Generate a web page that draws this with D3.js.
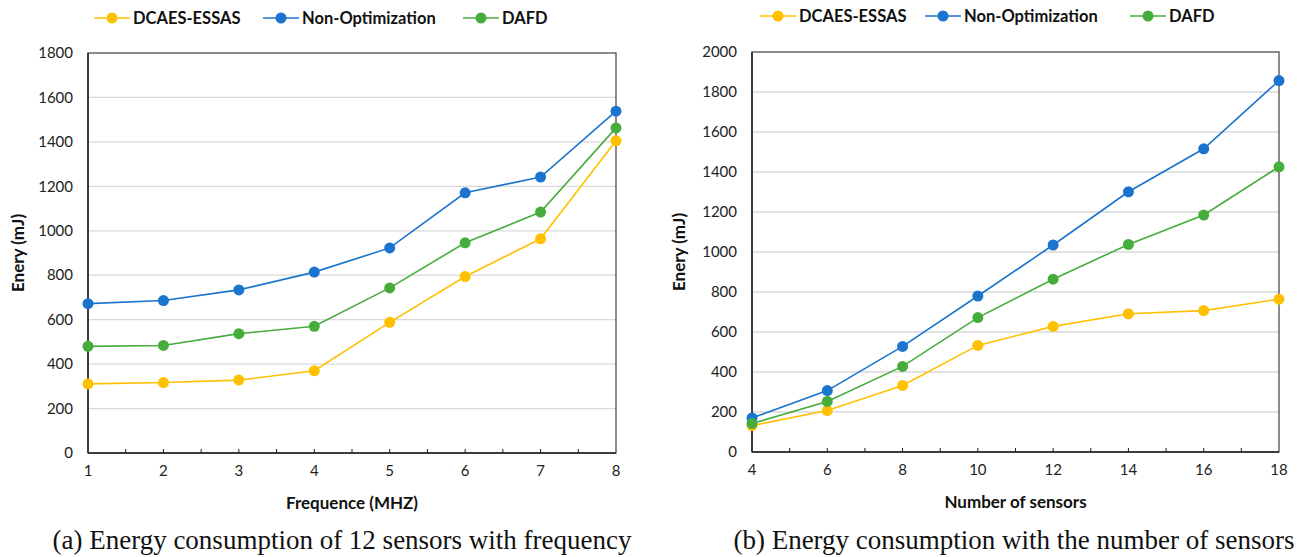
<!DOCTYPE html>
<html>
<head>
<meta charset="utf-8">
<script src="https://cdn.jsdelivr.net/npm/d3@7"></script>
<style>
  body { margin: 0; background: #fff; }
  svg text { font-family: Lato, "Open Sans", sans-serif; }
</style>
</head>
<body>
<svg id="chart" width="1299" height="557"></svg>
<script>
// Series names and colors
const seriesNames = ['DCAES-ESSAS', 'Non-Optimization', 'DAFD'];
const seriesColors = ['#FFC000', '#1B74CD', '#46AD3C'];

// (a) energy vs frequency
const freqX = [1, 2, 3, 4, 5, 6, 7, 8];
const freqDcaes = [311, 317, 328, 370, 588, 794, 964, 1405];
const freqNonOpt = [672, 686, 734, 814, 923, 1171, 1242, 1538];
const freqDafd = [480, 484, 537, 570, 743, 946, 1084, 1463];
const freqYTicks = [0, 200, 400, 600, 800, 1000, 1200, 1400, 1600, 1800];

// (b) energy vs number of sensors
const sensorX = [4, 6, 8, 10, 12, 14, 16, 18];
const sensorDcaes = [132, 207, 333, 533, 628, 691, 707, 764];
const sensorNonOpt = [170, 307, 528, 780, 1035, 1301, 1516, 1857];
const sensorDafd = [142, 253, 428, 672, 864, 1038, 1185, 1426];
const sensorYTicks = [0, 200, 400, 600, 800, 1000, 1200, 1400, 1600, 1800, 2000];

const svg = d3.select('#chart');

function drawPanel(cfg) {
    const x = d3.scaleLinear().domain(cfg.xDomain).range([cfg.left, cfg.right]);
    const y = d3.scaleLinear().domain(cfg.yDomain).range([cfg.bottom, cfg.top]);
    const g = svg.append('g');

    // Gridlines
    g.selectAll('.grid')
        .data(cfg.yTicks.filter(v => v > cfg.yDomain[0] && v < cfg.yDomain[1]))
        .enter().append('line')
        .attr('x1', cfg.left).attr('x2', cfg.right)
        .attr('y1', d => y(d)).attr('y2', d => y(d))
        .attr('stroke', '#d9d9d9').attr('stroke-width', 1.3);

    // Frame
    g.append('rect')
        .attr('x', cfg.left).attr('y', cfg.top)
        .attr('width', cfg.right - cfg.left).attr('height', cfg.bottom - cfg.top)
        .attr('fill', 'none').attr('stroke', '#404040').attr('stroke-width', 1.2);
    g.append('line')
        .attr('x1', cfg.left).attr('x2', cfg.left)
        .attr('y1', cfg.top).attr('y2', cfg.bottom)
        .attr('stroke', '#222').attr('stroke-width', 1.5);
    g.append('line')
        .attr('x1', cfg.left).attr('x2', cfg.right)
        .attr('y1', cfg.bottom).attr('y2', cfg.bottom)
        .attr('stroke', '#222').attr('stroke-width', 1.5);

    // X minor ticks (inside)
    const minor = d3.range(cfg.xDomain[0] + cfg.tickStep, cfg.xDomain[1], cfg.tickStep);
    g.selectAll('.xt')
        .data(minor)
        .enter().append('line')
        .attr('x1', d => x(d)).attr('x2', d => x(d))
        .attr('y1', cfg.bottom).attr('y2', cfg.bottom - 4)
        .attr('stroke', '#222').attr('stroke-width', 1);

    // Y tick labels
    g.selectAll('.yl')
        .data(cfg.yTicks)
        .enter().append('text')
        .attr('x', cfg.left - 15)
        .attr('y', d => y(d))
        .attr('dy', '0.35em')
        .attr('text-anchor', 'end')
        .attr('font-size', 15)
        .attr('fill', '#222')
        .text(d => d);

    // X tick labels
    g.selectAll('.xl')
        .data(cfg.xs)
        .enter().append('text')
        .attr('x', d => x(d))
        .attr('y', cfg.bottom + 23)
        .attr('text-anchor', 'middle')
        .attr('font-size', 15)
        .attr('fill', '#222')
        .text(d => d);

    // Axis titles
    g.append('text')
        .attr('x', (cfg.left + cfg.right) / 2)
        .attr('y', cfg.bottom + 56)
        .attr('text-anchor', 'middle')
        .attr('font-size', 17).attr('font-weight', 'bold')
        .attr('fill', '#111')
        .text(cfg.xTitle);
    g.append('text')
        .attr('transform', `translate(${cfg.yTitleX}, ${(cfg.top + cfg.bottom) / 2}) rotate(-90)`)
        .attr('text-anchor', 'middle')
        .attr('font-size', 17).attr('font-weight', 'bold')
        .attr('fill', '#111')
        .text('Enery (mJ)');

    // Lines and markers
    const line = d3.line().x(d => x(d[0])).y(d => y(d[1]));
    cfg.series.forEach((vals, i) => {
        const pts = cfg.xs.map((xv, j) => [xv, vals[j]]);
        g.append('path')
            .datum(pts)
            .attr('d', line)
            .attr('fill', 'none')
            .attr('stroke', seriesColors[i])
            .attr('stroke-width', 1.6);
        g.selectAll('.m' + i)
            .data(pts)
            .enter().append('circle')
            .attr('cx', d => x(d[0]))
            .attr('cy', d => y(d[1]))
            .attr('r', 5.5)
            .attr('fill', seriesColors[i]);
    });

    // Legend
    cfg.legendX.forEach((lx, i) => {
        const lg = g.append('g').attr('transform', `translate(${lx}, ${cfg.legendY})`);
        lg.append('line').attr('x1', 0).attr('x2', 36).attr('y1', 0).attr('y2', 0)
            .attr('stroke', seriesColors[i]).attr('stroke-width', 1.6);
        lg.append('circle').attr('cx', 18).attr('cy', 0).attr('r', 5.5).attr('fill', seriesColors[i]);
        lg.append('text').attr('x', 39).attr('y', 0).attr('dy', '0.35em')
            .attr('font-size', 16.5).attr('font-weight', 'bold').attr('fill', '#111')
            .text(seriesNames[i]);
    });

    // Caption
    svg.append('text')
        .attr('x', cfg.captionX)
        .attr('y', 549)
        .attr('text-anchor', 'middle')
        .style('font-family', '"Liberation Serif", "Times New Roman", serif')
        .attr('font-size', 27)
        .attr('fill', '#111')
        .text(cfg.caption);
}

drawPanel({
    left: 88, right: 616, top: 53, bottom: 453,
    xDomain: [1, 8], yDomain: [0, 1800], tickStep: 0.5,
    xs: freqX, yTicks: freqYTicks,
    series: [freqDcaes, freqNonOpt, freqDafd],
    xTitle: 'Frequence (MHZ)', yTitleX: 24,
    legendX: [94, 263, 463], legendY: 18,
    caption: '(a) Energy consumption of 12 sensors with frequency', captionX: 342
});

drawPanel({
    left: 752, right: 1279, top: 52, bottom: 452,
    xDomain: [4, 18], yDomain: [0, 2000], tickStep: 1,
    xs: sensorX, yTicks: sensorYTicks,
    series: [sensorDcaes, sensorNonOpt, sensorDafd],
    xTitle: 'Number of sensors', yTitleX: 685,
    legendX: [760, 925, 1130], legendY: 16,
    caption: '(b) Energy consumption with the number of sensors', captionX: 1014
});
</script>
</body>
</html>
